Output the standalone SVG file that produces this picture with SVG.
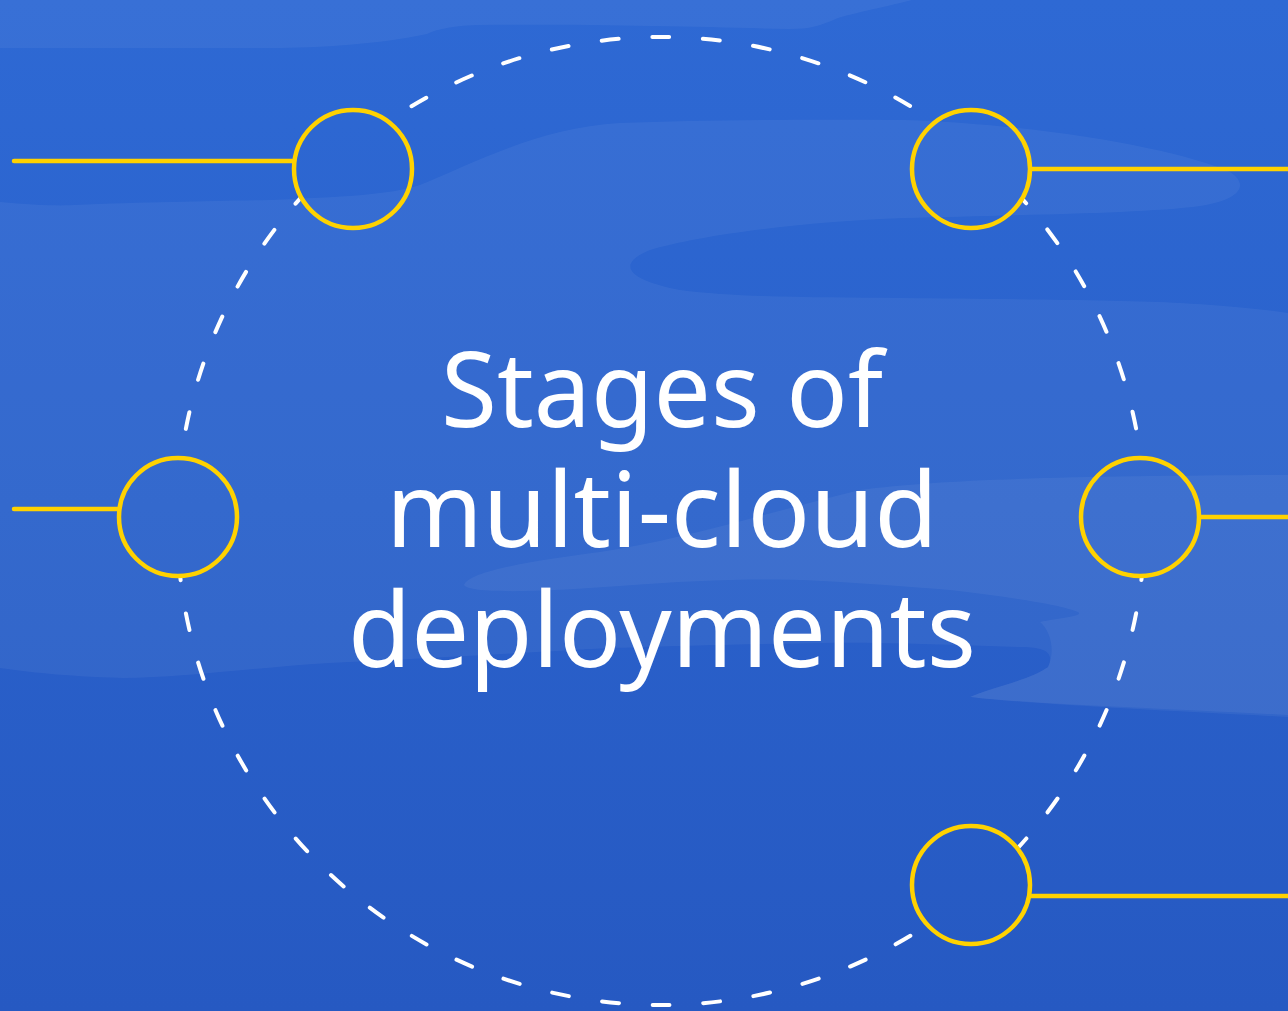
<svg xmlns="http://www.w3.org/2000/svg" width="1288" height="1011" viewBox="0 0 1288 1011">
  <defs>
    <linearGradient id="bg" x1="0" y1="0" x2="0" y2="1">
      <stop offset="0" stop-color="#2e69d4"/>
      <stop offset="1" stop-color="#2659c2"/>
    </linearGradient>
    <mask id="ringMask" maskUnits="userSpaceOnUse" x="0" y="0" width="1288" height="1011">
      <rect x="0" y="0" width="1288" height="1011" fill="#fff"/>
      <circle cx="353" cy="169" r="61" fill="#000"/>
      <circle cx="971" cy="169" r="61" fill="#000"/>
      <circle cx="178" cy="517" r="61" fill="#000"/>
      <circle cx="1140" cy="517" r="61" fill="#000"/>
      <circle cx="971" cy="885" r="61" fill="#000"/>
    </mask>
    <style>
      .cloud { fill: #ffffff; fill-opacity: 0.05; }
      .ring { fill: none; stroke: #ffffff; stroke-width: 4; stroke-linecap: round; stroke-dasharray: 17 33.67; stroke-dashoffset: 8.5; }
      .node { fill: none; stroke: #ffd200; stroke-width: 4.5; }
      .link { stroke: #ffd200; stroke-width: 4.5; stroke-linecap: round; fill: none; }
      .title { font-family: "Noto Sans", "Open Sans", "Liberation Sans", sans-serif; font-size: 104px; fill: #ffffff; text-anchor: middle; }
    </style>
  </defs>

  <!-- background -->
  <rect x="0" y="0" width="1288" height="1011" fill="url(#bg)"/>
  <g id="clouds">
    <path class="cloud" d="M0,0 H912 C880,8 850,14 838,18 C820,26 810,29 789,29 C700,27 600,24 477,25 C450,26 435,30 427,34 C380,44 320,48 271,48 L0,48 Z"/>
    <path class="cloud" d="M0,202 C30,205 60,206 74,205 C150,202 220,201 271,200 C340,197 390,195 420,185 C480,160 540,128 620,123 C700,120 800,119 904,120 C1050,125 1180,150 1230,172 C1250,185 1240,200 1200,206 C1140,214 1000,215 904,218 C800,222 700,235 650,250 C620,262 620,278 680,290 C740,298 822,297 900,298 C1000,299 1126,300 1180,303 C1230,306 1260,309 1288,313 L1288,715 C1150,708 1030,704 970,697 C990,688 1030,680 1048,667 C1056,650 1040,647 1019,647 C950,645 880,642 822,643 C700,645 600,648 575,650 C480,655 400,660 329,663 C250,668 180,678 123,678 C60,676 30,672 0,668 Z"/>
    <path class="cloud" d="M464,585 C470,570 540,560 600,552 C680,540 760,515 860,490 C950,478 1100,476 1288,475 L1288,717 C1150,710 1030,704 970,697 C990,688 1030,680 1048,667 C1056,650 1050,630 1040,622 C1060,618 1085,616 1078,612 C1060,604 1000,596 950,590 C900,586 860,583 822,581 C760,578 700,580 620,586 C540,592 470,594 464,585 Z"/>
  </g>

  <!-- connectors -->
  <g id="connectors">
    <circle id="ring" class="ring" cx="661" cy="521" r="484" mask="url(#ringMask)"/>
    <line class="link" x1="14" y1="161" x2="293" y2="161"/>
    <line class="link" x1="1031" y1="169" x2="1288" y2="169"/>
    <line class="link" x1="14" y1="509" x2="118" y2="509"/>
    <line class="link" x1="1200" y1="517" x2="1288" y2="517"/>
    <line class="link" x1="1031" y1="896" x2="1288" y2="896"/>
  </g>

  <!-- nodes -->
  <g id="node-top-left"><circle class="node" cx="353" cy="169" r="59"/></g>
  <g id="node-top-right"><circle class="node" cx="971" cy="169" r="59"/></g>
  <g id="node-left"><circle class="node" cx="178" cy="517" r="59"/></g>
  <g id="node-right"><circle class="node" cx="1140" cy="517" r="59"/></g>
  <g id="node-bottom-right"><circle class="node" cx="971" cy="885" r="59"/></g>

  <!-- title -->
  <g id="title">
    <text class="title" x="662" y="427" textLength="442" lengthAdjust="spacingAndGlyphs">Stages of</text>
    <text class="title" x="662" y="547" textLength="552" lengthAdjust="spacingAndGlyphs">multi-cloud</text>
    <text class="title" x="662" y="667" textLength="628" lengthAdjust="spacingAndGlyphs">deployments</text>
  </g>
</svg>
